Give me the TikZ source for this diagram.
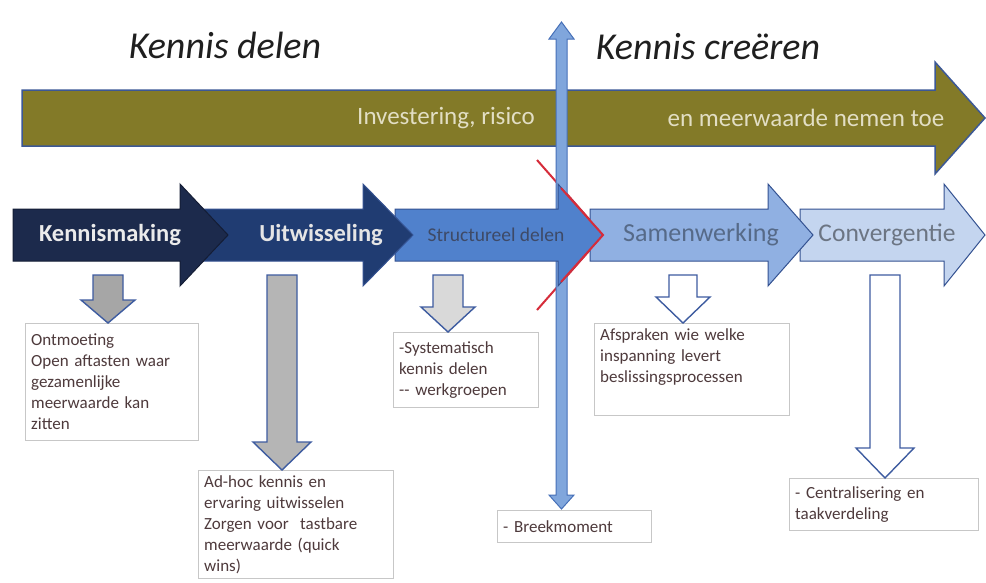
\documentclass[tikz,border=0pt]{standalone}
\usepackage{fontspec}
\setmainfont{Carlito}
\usetikzlibrary{positioning}

\definecolor{olive}{RGB}{131,122,40}
\definecolor{oliveline}{RGB}{60,88,150}
\definecolor{olivetext}{RGB}{226,222,196}
\definecolor{phaseline}{RGB}{52,82,145}
\definecolor{phaseA}{RGB}{28,42,76}
\definecolor{phaseB}{RGB}{32,60,114}
\definecolor{phaseC}{RGB}{80,129,204}
\definecolor{phaseD}{RGB}{144,176,226}
\definecolor{phaseE}{RGB}{196,213,239}
\definecolor{breakfill}{RGB}{128,166,220}
\definecolor{breakline}{RGB}{70,112,184}
\definecolor{dropline}{RGB}{62,92,160}
\definecolor{notetext}{RGB}{78,58,60}
\definecolor{breakred}{RGB}{214,44,58}

\begin{document}
\begin{tikzpicture}[
        x = 1pt, y = -1pt,
        phasearrow/.style = {draw = phaseline, line width = 1pt, line join = miter},
        phaselabel/.style = {font = \fontsize{25.5}{30}\selectfont},
        droparrow/.style  = {draw = dropline, line width = 1.4pt, line join = miter},
        notebox/.style    = {draw = black!22, fill = white, anchor = north west, align = left,
                             inner xsep = 6pt, inner ysep = 5pt, text = notetext,
                             font = \fontsize{17}{21}\selectfont},
        headtitle/.style  = {font = \fontsize{38}{44}\selectfont\itshape, text = black!88}
    ]

    \useasboundingbox[fill = white] (0,0) rectangle (986,582);

    % titles
    \node[headtitle] (delen)    at (225,45) {Kennis delen};
    \node[headtitle] (creeren)  at (708,47) {Kennis creëren};

    % big arrow on top
    \draw[draw = oliveline, line width = 1.5pt, fill = olive]
        (22,90) -- (935,90) -- (935,62) -- (985,118) -- (935,174) -- (935,146) -- (22,146) -- cycle;
    \node[font = \fontsize{25}{30}\selectfont, text = olivetext] (invest) at (446,118) {Investering, risico};
    \node[font = \fontsize{25}{30}\selectfont, text = olivetext] (toe)    at (806,118) {en meerwaarde nemen toe};

    % notes
    \node[notebox, text width = 161pt, minimum height = 117pt] (note1) at (25,323)
        {Ontmoeting\\Open aftasten waar\\gezamenlijke\\meerwaarde kan\\zitten};
    \node[notebox, text width = 183pt] (note2) at (198,470)
        {Ad-hoc kennis en\\ervaring uitwisselen\\Zorgen voor~ tastbare\\meerwaarde (quick\\wins)};
    \node[notebox, text width = 133pt, minimum height = 75pt] (note3) at (393,332)
        {-Systematisch\\kennis delen\\-{}- werkgroepen};
    \node[notebox, text width = 183pt] (note4) at (594,323)
        {Afspraken wie welke\\inspanning levert\\beslissingsprocessen\\[7pt]\mbox{}};
    \node[notebox, text width = 142pt, minimum height = 32pt] (breek) at (497,510)
        {- Breekmoment};
    \node[notebox, text width = 177pt, minimum height = 52pt] (note5) at (789,478)
        {- Centralisering en\\taakverdeling};

    % arrows down to the notes
    \coordinate (tip1) at (108,323);
    \coordinate (tip2) at (282,470);
    \coordinate (tip3) at (448,332);
    \coordinate (tip4) at (683,323);
    \coordinate (tip5) at (885,478);

    \draw[droparrow, fill = black!35]
        (tip1) -- ++(-27,-23) -- ++(12,0) -- ++(0,-25) -- ++(30,0) -- ++(0,25) -- ++(12,0) -- cycle;
    \draw[droparrow, fill = black!29]
        (tip2) -- ++(-29,-28) -- ++(14,0) -- ++(0,-167) -- ++(30,0) -- ++(0,167) -- ++(14,0) -- cycle;
    \draw[droparrow, fill = black!15]
        (tip3) -- ++(-27,-25) -- ++(12,0) -- ++(0,-32) -- ++(30,0) -- ++(0,32) -- ++(12,0) -- cycle;
    \draw[droparrow, fill = white]
        (tip4) -- ++(-27,-26) -- ++(13,0) -- ++(0,-22) -- ++(28,0) -- ++(0,22) -- ++(13,0) -- cycle;
    \draw[droparrow, fill = white]
        (tip5) -- ++(-29,-30) -- ++(14,0) -- ++(0,-173) -- ++(30,0) -- ++(0,173) -- ++(14,0) -- cycle;

    % red break line
    \draw[breakred, line width = 2pt] (537,160) -- (603,235) -- (537,310);

    % vertical break arrow
    \coordinate (breakup)   at (561.5,22);
    \coordinate (breakdown) at (561.5,509);
    \draw[draw = breakline, line width = 1pt, fill = breakfill, line join = miter]
        (breakup) -- ++(12.5,17) -- ++(-7,0) |- ([xshift = 5.5pt, yshift = 14pt]breakdown)
        -- ++(7,0) -- (breakdown) -- ++(-12.5,-14) -- ++(7,0) |- ([xshift = -5.5pt, yshift = -17pt]breakup)
        -- ++(-7,0) -- cycle;

    % phases, right to left
    \draw[phasearrow, fill = phaseE]
        (800,209) -- (944,209) -- (944,184) -- (985,235) -- (944,286) -- (944,261) -- (800,261) -- cycle;
    \draw[phasearrow, fill = phaseD]
        (590,209) -- (768,209) -- (768,184) -- (813,235) -- (768,286) -- (768,261) -- (590,261) -- cycle;
    \draw[phasearrow, fill = phaseC]
        (395,209) -- (558,209) -- (558,184) -- (603,235) -- (558,286) -- (558,261) -- (395,261) -- cycle;
    \draw[breakred, line width = 2pt] (561,188) -- (603,235) -- (561,282);
    \draw[phasearrow, fill = phaseB]
        (190,209) -- (363,209) -- (363,184) -- (413,235) -- (363,286) -- (363,261) -- (190,261) -- cycle;
    \draw[phasearrow, draw = phaseA!70!black, fill = phaseA]
        (13,209) -- (180,209) -- (180,184) -- (228,235) -- (180,286) -- (180,261) -- (13,261) -- cycle;

    \node[phaselabel, font = \fontsize{24.5}{28}\selectfont\bfseries, text = black!8]  (kennismaking) at (110,235) {Kennismaking};
    \node[phaselabel, font = \fontsize{24.5}{28}\selectfont\bfseries, text = black!10] (uitwisseling) at (321,235) {Uitwisseling};
    \node[phaselabel, font = \fontsize{19.5}{22}\selectfont, text = phaseA!85]         (structureel)  at (496,235) {Structureel delen};
    \node[phaselabel, font = \fontsize{26}{30}\selectfont, text = black!40!phaseD]    (samenwerking) at (701,235) {Samenwerking};
    \node[phaselabel, text = black!45!phaseE]                                         (convergentie) at (887,235) {Convergentie};

\end{tikzpicture}
\end{document}
